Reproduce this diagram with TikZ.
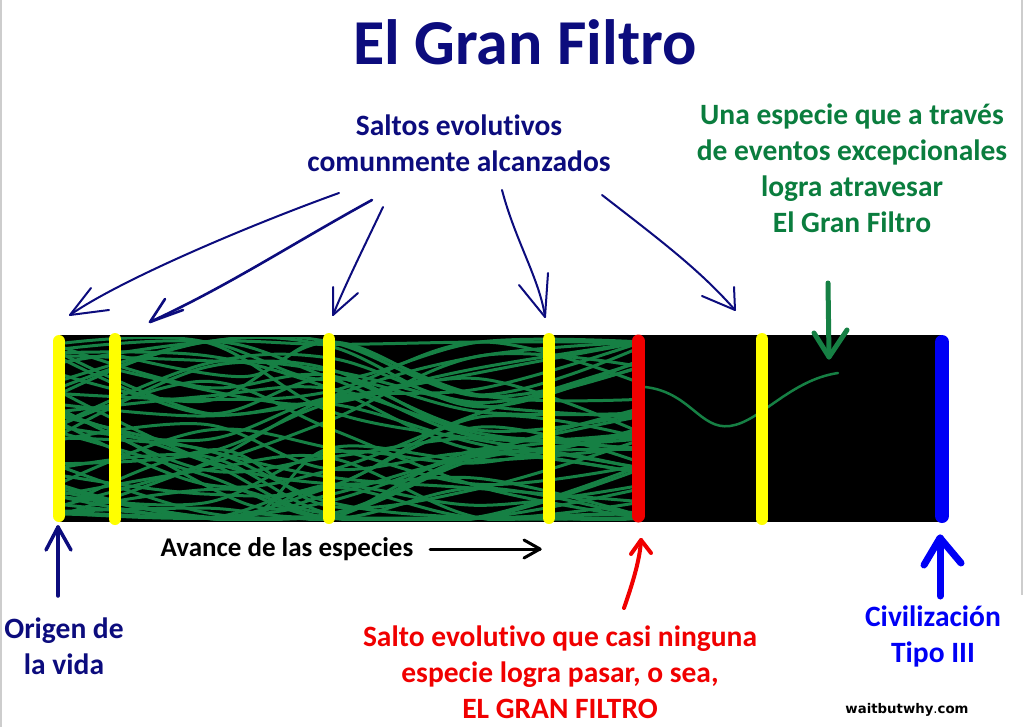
\documentclass[tikz,border=0pt]{standalone}
\usepackage{fontspec}
\setmainfont{Carlito}[Ligatures=NoCommon]
\newfontfamily\wbwfont{DejaVu Sans}
\definecolor{navyT}{RGB}{12,12,125}
\definecolor{greenT}{RGB}{10,125,62}
\definecolor{greenL}{RGB}{22,128,68}
\definecolor{redT}{RGB}{240,0,0}
\definecolor{blueT}{RGB}{0,0,245}
\definecolor{yellowB}{RGB}{255,255,0}
\definecolor{edgeG}{RGB}{205,205,205}
\tikzset{
  lbl/.style={font=\fontsize{29.5}{36}\selectfont\bfseries, align=center, inner sep=0pt},
  navyarrow/.style={draw=navyT, line width=2pt, line cap=round, line join=round},
  gline/.style={draw=greenL, line width=3pt, line cap=round},
  bar/.style={line width=12pt, line cap=round},
}
\begin{document}
\begin{tikzpicture}[x=1pt,y=-1pt]
\useasboundingbox (0,0) rectangle (1024,727);
\fill[white] (0,0) rectangle (1024,727);
\draw[edgeG, line width=1.5pt] (1,0) -- (1,727);
\draw[edgeG, line width=1.5pt] (1022,0) -- (1022,595);

% title
\node[font=\fontsize{64}{76}\selectfont\bfseries, text=navyT, inner sep=0pt] (title) at (525,42) {El Gran Filtro};

% labels
\node[lbl, text=navyT] (saltos) at (459,143) {Saltos evolutivos\\comunmente alcanzados};
\node[lbl, text=greenT] (especie) at (852,168) {Una especie que a través\\de eventos excepcionales\\logra atravesar\\El Gran Filtro};
\node[lbl, text=navyT] (origen) at (64,646) {Origen de\\la vida};
\node[lbl, font=\fontsize{27}{32}\selectfont\bfseries, text=black] (avance) at (287,549) {Avance de las especies};
\node[lbl, text=redT] (salto) at (560,672) {Salto evolutivo que casi ninguna\\especie logra pasar, o sea,\\EL GRAN FILTRO};
\node[lbl, text=blueT] (civ) at (933,636) {Civilización\\Tipo III};
\node[font=\wbwfont\fontsize{13.3}{16}\selectfont, inner sep=0pt] (wbw) at (907,710) {\textbf{waitbutwhy}.\textbf{com}};

% band
\fill[black] (58,335) rectangle (942,522);

\begin{scope}
\clip (60,337) rectangle (638,520);
\pgfmathsetseed{23}
\foreach \i in {1,...,52}{
  \pgfmathsetmacro\xa{ifthenelse(rnd<0.75,60,65+80*rnd)}
  \pgfmathsetmacro\ya{ifthenelse(rnd<0.25,495+20*rnd,342+176*rnd)}
  \pgfmathsetmacro\yb{max(342,min(518,\ya+140*(rnd-0.5)))}
  \pgfmathsetmacro\yc{max(342,min(518,\yb+140*(rnd-0.5)))}
  \pgfmathsetmacro\yd{max(342,min(518,\yc+140*(rnd-0.5)))}
  \pgfmathsetmacro\ye{max(342,min(518,\yd+110*(rnd-0.5)))}
  \pgfmathsetmacro\xb{(\xa+640)/4+\xa*0.5}
  \draw[gline] plot[smooth, tension=0.6] coordinates {(\xa,\ya) (\xb,\yb) (330,\yc) (480,\yd) (642,\ye)};
}
\end{scope}

% survivor
\coordinate (sv0) at (645,387);
\coordinate (sv1) at (838,373);
\draw[gline, line width=2.5pt] (sv0) .. controls (690,392) and (700,430) .. (730,426)
  .. controls (760,422) and (790,380) .. (sv1);

% bars
\draw[bar, yellowB] (59,341) -- (59,516);
\draw[bar, yellowB] (115,339) -- (115,519);
\draw[bar, yellowB] (329,339) -- (329,518);
\draw[bar, yellowB] (549,339) -- (549,518);
\draw[bar, redT, line width=13pt] (638,341) -- (638,516);
\draw[bar, yellowB] (762,339) -- (762,519);
\draw[bar, blueT, line width=14pt] (942,342) -- (942,516);

% navy arrows from Saltos
\coordinate (s1) at (339,193); \coordinate (t1) at (70,315);
\draw[navyarrow] (s1) .. controls (250,225) and (120,280) .. (t1);
\draw[navyarrow] (91,288) -- (t1) -- (109,310);
\coordinate (s2) at (372,200); \coordinate (t2) at (150,322);
\draw[navyarrow, line width=2.6pt] (s2) .. controls (290,245) and (230,285) .. (t2);
\draw[navyarrow, line width=2.6pt] (165,299) -- (t2) -- (183,310);
\coordinate (s3) at (383,207); \coordinate (t3) at (333,315);
\draw[navyarrow] (s3) .. controls (365,245) and (345,285) .. (t3);
\draw[navyarrow] (333,287) -- (t3) -- (358,293);
\coordinate (s4) at (502,190); \coordinate (t4) at (545,317);
\draw[navyarrow] (s4) .. controls (515,240) and (540,280) .. (t4);
\draw[navyarrow] (519,285) -- (t4) -- (548,273);
\coordinate (s5) at (602,195); \coordinate (t5) at (735,310);
\draw[navyarrow] (s5) .. controls (660,240) and (700,270) .. (t5);
\draw[navyarrow] (702,296) -- (t5) -- (734,287);

% green arrow
\coordinate (g0) at (828,283); \coordinate (g1) at (829,357);
\draw[greenL, line width=5pt, line cap=round, line join=round] (g0) -- (g1);
\draw[greenL, line width=5pt, line cap=round, line join=round] (814,333) -- (g1) -- (847,330);

% origen arrow
\coordinate (o0) at (58,596); \coordinate (o1) at (58,527);
\draw[navyarrow, line width=3.5pt] (o0) -- (o1);
\draw[navyarrow, line width=3.5pt] (46,550) -- (o1) -- (71,550);

% avance arrow
\coordinate (a0) at (430,549); \coordinate (a1) at (540,549);
\draw[black, line width=3pt, line cap=round, line join=round] (a0) -- (a1);
\draw[black, line width=3pt, line cap=round, line join=round] (524,540) -- (a1) -- (524,558);

% red arrow
\coordinate (r0) at (624,608); \coordinate (r1) at (641,540);
\draw[redT, line width=4pt, line cap=round, line join=round] (r0) .. controls (632,585) and (640,560) .. (r1);
\draw[redT, line width=4pt, line cap=round, line join=round] (631,554) -- (r1) -- (651,553);

% blue arrow
\coordinate (b0) at (940,596); \coordinate (b1) at (940,538);
\draw[blueT, line width=7pt, line cap=round, line join=round] (b0) -- (b1);
\draw[blueT, line width=7pt, line cap=round, line join=round] (924,565) -- (b1) -- (961,563);
\end{tikzpicture}
\end{document}
